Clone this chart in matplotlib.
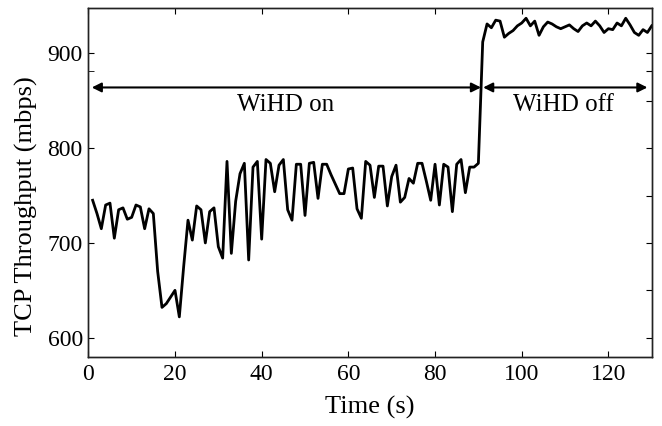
import matplotlib
matplotlib.use("Agg")
import matplotlib.pyplot as plt

time_s = list(range(1, 131))
throughput = [
    745, 731, 715, 740, 742, 705, 735, 737, 725, 727,
    740, 738, 715, 736, 731, 670, 632, 636, 643, 650,
    622, 675, 724, 703, 739, 735, 700, 733, 737, 696,
    684, 786, 689, 744, 773, 784, 682, 780, 786, 704,
    788, 784, 754, 782, 788, 735, 724, 783, 783, 729,
    784, 785, 747, 783, 783, 772, 762, 752, 752, 778,
    779, 736, 726, 786, 782, 748, 781, 781, 739, 770,
    782, 743, 748, 768, 763, 784, 784, 765, 745, 783,
    740, 783, 780, 733, 783, 788, 753, 780, 780, 784,
    912, 931, 927, 935, 934, 917, 921, 924, 929, 932,
    937, 929, 934, 919, 928, 933, 931, 928, 926, 928,
    930, 926, 923, 929, 932, 929, 934, 929, 922, 926,
    925, 932, 929, 937, 930, 922, 919, 925, 922, 929,
]
x_ticks = [0, 20, 40, 60, 80, 100, 120]
y_ticks = [600, 700, 800, 900]
right_ticks = [600, 650, 700, 750, 800, 850, 881, 900]
phase_labels = ["WiHD on", "WiHD off"]
phase_spans = [(0.8, 90.6), (91.1, 129.0)]
phase_text_x = [45.6, 109.6]

plt.rcParams['font.family'] = ['Liberation Serif', 'DejaVu Serif']

fig = plt.figure(figsize=(6.62, 4.26), dpi=100)
ax = fig.add_axes([0.1334, 0.1627, 0.8511, 0.8178])
ax.plot(time_s, throughput, color='black', lw=2.0)
ax.set_xlim(0, 130)
ax.set_ylim(580, 947.5)
ax.set_xticks(x_ticks)
ax.set_yticks(y_ticks)
ax.set_yticks([881], minor=True)
ax.tick_params(direction='in', top=True, right=False, length=4, labelsize=17, pad=4)
ax.tick_params(axis='x', pad=5)
ax.tick_params(which='minor', direction='in', length=4, right=False)
ax.set_xlabel("Time (s)", fontsize=19, labelpad=8)
ax.set_ylabel("TCP Throughput (mbps)", fontsize=19)
ax.yaxis.set_label_coords(-0.09, 0.433)

ax2 = ax.twinx()
ax2.set_ylim(580, 947.5)
ax2.set_yticks(right_ticks)
ax2.tick_params(direction='in', length=4, labelright=False)

for sp in list(ax.spines.values()) + list(ax2.spines.values()):
    sp.set_color('#222222')
    sp.set_linewidth(1.0)

arrow_y = 864
for (x0, x1), lab, tx in zip(phase_spans, phase_labels, phase_text_x):
    ax.annotate('', xy=(x0, arrow_y), xytext=(x1, arrow_y),
                arrowprops=dict(arrowstyle='<|-|>', color='black', lw=1.5,
                                mutation_scale=14, shrinkA=0, shrinkB=0))
    ax.text(tx, 845, lab, ha='center', va='center', fontsize=18)

fig.savefig("out.png", dpi=100)
